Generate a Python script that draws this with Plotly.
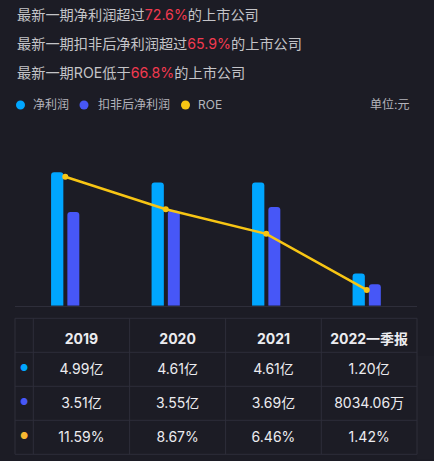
import plotly.graph_objects as go

years = ["2019", "2020", "2021", "2022一季报"]
net_profit = [4.99, 4.61, 4.61, 1.20]          # 亿
net_profit_adj = [3.51, 3.55, 3.69, 0.803406]  # 亿
roe = [11.59, 8.67, 6.46, 1.42]                # %

net_profit_txt = ["4.99亿", "4.61亿", "4.61亿", "1.20亿"]
net_profit_adj_txt = ["3.51亿", "3.55亿", "3.69亿", "8034.06万"]
roe_txt = ["11.59%", "8.67%", "6.46%", "1.42%"]

headlines = [("最新一期净利润超过", "72.6%", "的上市公司"),
             ("最新一期扣非后净利润超过", "65.9%", "的上市公司"),
             ("最新一期ROE低于", "66.8%", "的上市公司")]

W, H = 434, 461
bg = "#1c1c25"
grid = "#2e2e3a"
c_np = "#00a6ff"
c_adj = "#4757f7"
c_roe = "#f7c514"
font = "Inter, Noto Sans CJK SC"

def px_x(v):
    return v / W

def px_y(v):
    return 1 - v / H

fig = go.Figure()

fig.add_trace(go.Bar(
    x=years, y=net_profit, name="净利润",
    marker=dict(color=c_np, cornerradius=3, line=dict(width=0)),
    offset=-0.141, width=0.122, hoverinfo="skip",
))
fig.add_trace(go.Bar(
    x=years, y=net_profit_adj, name="扣非后净利润",
    marker=dict(color=c_adj, cornerradius=3, line=dict(width=0)),
    offset=0.021, width=0.119, hoverinfo="skip",
))
fig.add_trace(go.Scatter(
    x=years, y=roe, name="ROE", yaxis="y2", mode="lines+markers",
    line=dict(color=c_roe, width=2.5), marker=dict(color=c_roe, size=6),
    hoverinfo="skip",
))

# table below the chart (grid drawn with shapes so text sits centred)
txt = "#ececf0"
col_w = [18.3, 96.3, 96, 95.7, 95.7]
row_h = 34
tbl_x0, tbl_y0 = 15, 318.3
fig.add_trace(go.Table(
    domain=dict(x=[px_x(tbl_x0), px_x(417)], y=[px_y(460), px_y(tbl_y0 + 3.5)]),
    columnwidth=col_w,
    header=dict(
        values=[""] + ["<b>%s</b>" % y for y in years],
        fill_color="rgba(0,0,0,0)", line=dict(width=0),
        font=dict(family=font, size=14, color=txt),
        align="center", height=row_h,
    ),
    cells=dict(
        values=[["●", "●", "●"]] + [[a, b, c] for a, b, c in
                                    zip(net_profit_txt, net_profit_adj_txt, roe_txt)],
        fill_color="rgba(0,0,0,0)", line=dict(width=0),
        font=dict(family=font, size=[9, 14, 14, 14, 14],
                  color=[[c_np, c_adj, "#f7b731"], txt, txt, txt, txt]),
        align="center", height=row_h,
    ),
))

shapes = []
n_rows = 4
tbl_x1 = tbl_x0 + sum(col_w)
tbl_y1 = tbl_y0 + n_rows * row_h
for r in range(n_rows + 1):
    yy = tbl_y0 + r * row_h
    shapes.append(dict(type="line", xref="paper", yref="paper",
                       x0=px_x(tbl_x0), x1=px_x(tbl_x1), y0=px_y(yy), y1=px_y(yy),
                       line=dict(color=grid, width=1)))
xx = tbl_x0
for w in [0] + col_w:
    xx += w
    shapes.append(dict(type="line", xref="paper", yref="paper",
                       x0=px_x(xx), x1=px_x(xx), y0=px_y(tbl_y0), y1=px_y(tbl_y1),
                       line=dict(color=grid, width=1)))

# headline text
annotations = []
for i, (a, b, c) in enumerate(headlines):
    annotations.append(dict(
        x=px_x(15), y=px_y(15 + i * 28.7), xref="paper", yref="paper",
        xanchor="left", yanchor="middle", showarrow=False,
        text="%s<span style='color:#f23a50'>%s</span>%s" % (a, b, c),
        font=dict(family=font, size=14.2, color="#c4c4c8"),
    ))

# custom legend
legend = [("净利润", c_np, 20.5, 31), ("扣非后净利润", c_adj, 84, 96), ("ROE", c_roe, 185.5, 196)]
for name, col, cx, tx in legend:
    shapes.append(dict(type="circle", xref="paper", yref="paper",
                       x0=px_x(cx - 4.5), x1=px_x(cx + 4.5),
                       y0=px_y(105 + 4.5), y1=px_y(105 - 4.5),
                       fillcolor=col, line=dict(width=0)))
    annotations.append(dict(
        x=px_x(tx), y=px_y(105), xref="paper", yref="paper",
        xanchor="left", yanchor="middle", showarrow=False, text=name,
        font=dict(family=font, size=12, color="#b4b4bc"),
    ))
annotations.append(dict(
    x=px_x(411), y=px_y(105), xref="paper", yref="paper",
    xanchor="right", yanchor="middle", showarrow=False, text="单位:元",
    font=dict(family=font, size=12, color="#b4b4bc"),
))

y_top, y_base = 130, 305.7
fig.update_layout(
    width=W, height=H, margin=dict(l=0, r=0, t=0, b=0),
    paper_bgcolor=bg, plot_bgcolor=bg, showlegend=False,
    font=dict(family=font),
    xaxis=dict(domain=[px_x(15), px_x(417)], showticklabels=False, ticks="",
               showgrid=False, zeroline=False, showline=True,
               linecolor=grid, linewidth=1, range=[-0.5, 3.5]),
    yaxis=dict(domain=[px_y(y_base), px_y(y_top)], range=[0, (y_base - y_top) / 26.73],
               visible=False, showgrid=False, zeroline=False),
    yaxis2=dict(overlaying="y", range=[0, (y_base - y_top) / 11.13],
                visible=False, showgrid=False, zeroline=False),
    annotations=annotations, shapes=shapes,
)

fig.write_html("out.html", config={"displayModeBar": False},
               post_script="document.body.style.margin='0';document.body.style.background='%s';" % bg)
